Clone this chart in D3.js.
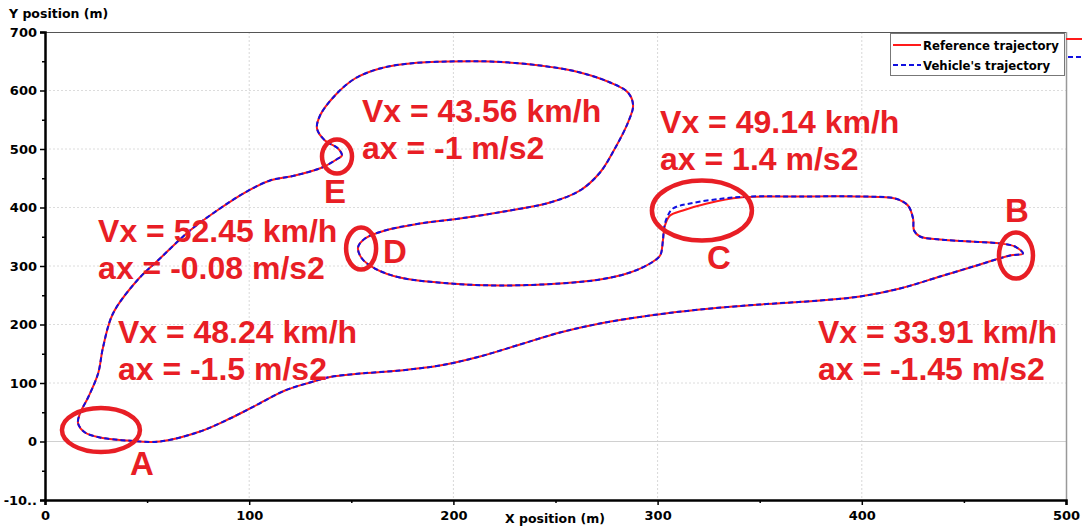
<!DOCTYPE html>
<html><head><meta charset="utf-8">
<script src="https://cdn.jsdelivr.net/npm/d3@7"></script>
<style>
html,body{margin:0;padding:0;background:#fff;}
svg{display:block;}
</style></head>
<body>
<svg id="c" width="1082" height="529"></svg>
<script>
// ---- data ----
const refX = [17.1,16.2,19.6,26.9,40.2,56.3,75.9,90.6,104.5,117.5,129.8,139.6,154.3,173.8,193.4,213,232.6,252.2,271.8,296.3,320.8,350.1,379.5,399.1,418.7,438.3,457.9,472.6,478.9,475,467.7,453,438.3,428.5,425.6,425.1,422.6,416.3,399.1,369.7,340.3,324.2,312.4,306.1,303.6,302.6,301.2,296.3,286.5,271.8,252.2,222.8,198.3,173.8,161.6,155.2,153.3,156.7,166.5,183.6,203.2,227.7,247.3,262,271.8,279.1,285.5,288,285.5,276.7,262,242.4,217.9,198.3,178.7,164,151.8,142,134.7,133.2,137.1,143.5,145.4,143.5,135.7,122.4,110.2,97.9,85.7,71,56.3,45.1,33.3,28.4,26,21.1];
const refY = [47.9,30.8,15.4,6.8,1.7,0,17.1,39.3,64,87.2,100.9,110.4,116.2,121.4,129.9,145.3,165.8,186.3,201.7,215.4,225.6,234.2,241,247.9,261.5,282,302.6,318,321.4,333.3,338.5,341.9,345.3,350.4,360.7,381.2,403.4,415.4,418.8,418.8,417.1,406.8,394.9,386.3,369.2,343.6,317.9,304.3,288.9,276.9,270.1,266.7,270.1,280.3,295.7,312.8,331.6,347,360.7,372.6,381.2,394.9,408.5,429.1,459.8,500.9,545.3,574.4,596.6,613.7,630.8,642.7,649.6,649.6,646.2,637.6,620.5,591.5,557.3,535,514.5,500.9,488.9,483.8,468.4,454.7,446.2,425.6,398.3,360.7,312.8,275.2,218.8,160.7,116.2,75.2];
// vehicle trajectory differs from reference only around point C
const vehDevStart = 40, vehDevEnd = 44;
const vehDevX = [345.3,332,315.9,307.5,304.6,303.1];
const vehDevY = [418.8,415.4,406.8,398.3,382.9,364.1];

const xTicks = [0,100,200,300,400,500];
const yTicks = [-100,0,100,200,300,400,500,600,700];
const yTickLabels = ["-10..","0","100","200","300","400","500","600","700"];

const notes1 = ["Vx = 43.56 km/h","Vx = 49.14 km/h","Vx = 52.45 km/h","Vx = 48.24 km/h","Vx = 33.91 km/h"];
const notes2 = ["ax = -1 m/s2","ax = 1.4 m/s2","ax = -0.08 m/s2","ax = -1.5 m/s2","ax = -1.45 m/s2"];
const noteX = [155.2,301.2,26.0,35.7,378.5];
const noteY = [545.3,528.2,340.2,169.2,169.2];

const pointNames = ["A","B","C","D","E"];
const ringX = [27.4,475.5,321.7,154.8,143];
const ringY = [19.5,317.9,394.9,329.9,487.2];
const letterX = [47.5,476,330,171.4,142];
const letterY = [-58.1,374.4,295.7,304.3,408.5];

// ---- chart ----
const svg = d3.select("#c");
const L=45, R=1066, T=32, B=500;
const x = d3.scaleLinear().domain([0,500]).range([L,R]);
const y = d3.scaleLinear().domain([-100,700]).range([B,T]);
const RED_NOTE = "#e81e25";
const tickFont = "DejaVu Sans, Verdana, sans-serif";

// grid
const g = svg.append("g");
xTicks.filter(v=>v>0&&v<500).forEach(v=>{
  g.append("line").attr("x1",x(v)).attr("x2",x(v)).attr("y1",T).attr("y2",B)
   .attr("stroke","#d8d8d8").attr("stroke-width",1).attr("stroke-dasharray","2,2");
});
yTicks.filter(v=>v>-100&&v<700).forEach(v=>{
  g.append("line").attr("x1",L).attr("x2",R).attr("y1",y(v)).attr("y2",y(v))
   .attr("stroke",v===0?"#d0d0d0":"#dcdcdc").attr("stroke-width",1)
   .attr("stroke-dasharray",v===0?null:"2,2");
});
// top & right frame
svg.append("line").attr("x1",L).attr("x2",R).attr("y1",T+0.5).attr("y2",T+0.5).attr("stroke","#555").attr("stroke-width",1);
svg.append("line").attr("x1",R+0.5).attr("x2",R+0.5).attr("y1",T).attr("y2",B).attr("stroke","#999").attr("stroke-width",1.5);

// trajectories
const refPts = refX.map((v,i)=>[v,refY[i]]);
const vehPts = refPts.slice(0,vehDevStart)
  .concat(vehDevX.map((v,i)=>[v,vehDevY[i]]))
  .concat(refPts.slice(vehDevEnd+1));
const line = d3.line().x(d=>x(d[0])).y(d=>y(d[1])).curve(d3.curveCatmullRomClosed.alpha(0.5));
svg.append("path").attr("d",line(refPts)).attr("fill","none").attr("stroke","#ff1a1a").attr("stroke-width",2);
svg.append("path").attr("d",line(vehPts)).attr("fill","none").attr("stroke","#1010e0").attr("stroke-width",2).attr("stroke-dasharray","5,3");

// axes
const xAxis = d3.axisBottom(x).tickValues(xTicks).tickSize(5).tickFormat(d3.format("d"));
const yAxis = d3.axisLeft(y).tickValues(yTicks).tickSize(5).tickFormat((d,i)=>yTickLabels[i]);
const gx = svg.append("g").attr("transform",`translate(0,${B})`).call(xAxis);
const gy = svg.append("g").attr("transform",`translate(${L},0)`).call(yAxis);
[gx,gy].forEach(a=>{
  a.select(".domain").attr("stroke","#000").attr("stroke-width",2.5);
  a.selectAll(".tick line").attr("stroke","#000").attr("stroke-width",1.5);
  a.selectAll(".tick text").attr("fill","#000").attr("font-family",tickFont).attr("font-weight","bold").attr("font-size",13);
});
gx.selectAll(".tick text").attr("dy","0.9em");
gy.selectAll(".tick text").attr("x",-8);
// minor ticks
const minorX = d3.range(50,500,100), minorY = d3.range(-50,700,100);
svg.append("g").attr("transform",`translate(0,${B})`).call(d3.axisBottom(x).tickValues(minorX).tickSize(3).tickFormat(""))
  .call(a=>{a.select(".domain").remove();a.selectAll("line").attr("stroke","#000").attr("stroke-width",1.5);});
svg.append("g").attr("transform",`translate(${L},0)`).call(d3.axisLeft(y).tickValues(minorY).tickSize(3).tickFormat(""))
  .call(a=>{a.select(".domain").remove();a.selectAll("line").attr("stroke","#000").attr("stroke-width",1.5);});

// axis titles
svg.append("text").attr("x",9).attr("y",18).text("Y position (m)")
  .attr("font-family",tickFont).attr("font-weight","bold").attr("font-size",12.5).attr("fill","#000");
svg.append("text").attr("x",555).attr("y",523).attr("text-anchor","middle").text("X position (m)")
  .attr("font-family",tickFont).attr("font-weight","bold").attr("font-size",12.5).attr("fill","#000");

// legend
const lg = svg.append("g");
lg.append("rect").attr("x",890.5).attr("y",33.5).attr("width",174).attr("height",42).attr("fill","#fff").attr("stroke","#777").attr("stroke-width",1);
lg.append("line").attr("x1",893).attr("x2",921).attr("y1",45).attr("y2",45).attr("stroke","#ff1a1a").attr("stroke-width",2);
lg.append("line").attr("x1",893).attr("x2",921).attr("y1",65).attr("y2",65).attr("stroke","#1010e0").attr("stroke-width",2).attr("stroke-dasharray","5,3");
lg.append("text").attr("x",923).attr("y",49.5).text("Reference trajectory").attr("font-family",tickFont).attr("font-weight","bold").attr("font-size",11.7).attr("fill","#000");
lg.append("text").attr("x",923).attr("y",69.5).text("Vehicle's trajectory").attr("font-family",tickFont).attr("font-weight","bold").attr("font-size",11.7).attr("fill","#000");
lg.append("line").attr("x1",1066).attr("x2",1082).attr("y1",39).attr("y2",39).attr("stroke","#ff1a1a").attr("stroke-width",2);
lg.append("line").attr("x1",1068).attr("x2",1082).attr("y1",57).attr("y2",57).attr("stroke","#1010e0").attr("stroke-width",2).attr("stroke-dasharray","5,3");

// rings
const ringRx=[39,17,50,15,15], ringRy=[22,23,30,21,17];
pointNames.forEach((n,i)=>{
  svg.append("ellipse").attr("cx",x(ringX[i])).attr("cy",y(ringY[i])).attr("rx",ringRx[i]).attr("ry",ringRy[i])
    .attr("fill","none").attr("stroke",RED_NOTE).attr("stroke-width",4.5);
  svg.append("text").attr("x",x(letterX[i])).attr("y",y(letterY[i])).attr("text-anchor","middle").text(n)
    .attr("font-family","Liberation Sans, Arial, sans-serif").attr("font-weight","bold").attr("font-size",33).attr("fill",RED_NOTE);
});
// notes
notes1.forEach((t,i)=>{
  svg.append("text").attr("x",x(noteX[i])).attr("y",y(noteY[i])).text(t)
    .attr("font-family","Liberation Sans, Arial, sans-serif").attr("font-weight","bold").attr("font-size",32).attr("fill",RED_NOTE);
  svg.append("text").attr("x",x(noteX[i])).attr("y",y(noteY[i])+37).text(notes2[i])
    .attr("font-family","Liberation Sans, Arial, sans-serif").attr("font-weight","bold").attr("font-size",32).attr("fill",RED_NOTE);
});
</script>
</body></html>
